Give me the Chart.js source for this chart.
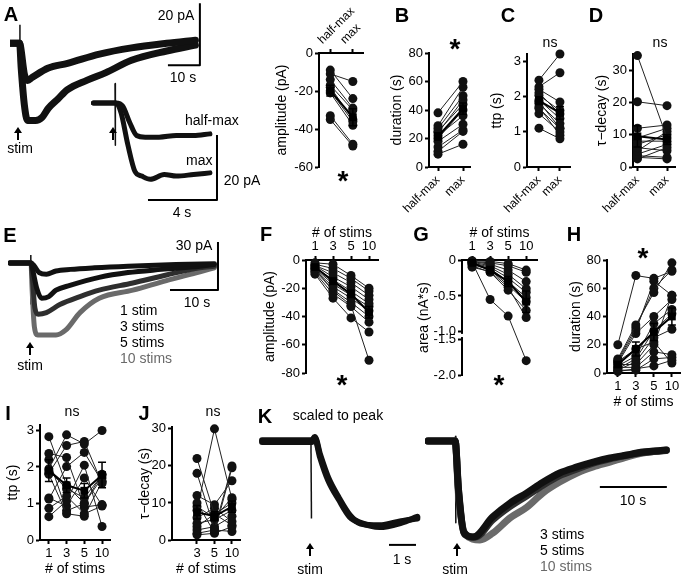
<!DOCTYPE html>
<html>
<head>
<meta charset="utf-8">
<script src="https://cdn.jsdelivr.net/npm/chart.js@4.4.0/dist/chart.umd.min.js"></script>
<style>
body { margin: 0; width: 682px; height: 578px; position: relative; overflow: hidden; background: #fff;
       font-family: "Liberation Sans", Arial, Helvetica, sans-serif; }
canvas { position: absolute; }
.t { position: absolute; white-space: nowrap; font-size: 14px; line-height: 14px; color: #000; transform: translate(-50%, -50%); }
.t.l { transform: translate(0, -50%); }
.t.g { color: #6a6a6a; }
.t.p { font-size: 20px; line-height: 20px; font-weight: bold; }
.t.s { font-size: 28px; line-height: 28px; font-weight: bold; transform: translate(-50%, -27.5%); }
.arr { position: absolute; width: 8px; }
.arr::before { content: ''; position: absolute; left: 0; top: 0; border-left: 4px solid transparent; border-right: 4px solid transparent; border-bottom: 6px solid #000; }
.arr::after { content: ''; position: absolute; left: 3px; top: 5px; bottom: 0; width: 2px; background: #000; }
</style>
</head>
<body>
<script>
// ---- Data ----
const pairCats = ['half-max', 'max'];
const stimCats = ['1', '3', '5', '10'];
const stimCatsJ = ['3', '5', '10'];

// A: amplitude (pA), one row per cell [half-max, max]
const ampRows = [[-9, -24], [-11, -15], [-14, -29], [-17, -30], [-18, -35], [-20, -36], [-21, -38], [-33, -48], [-35, -49]];
const ampMean = [-19.8, -33.8];
const ampSem = [2.8, 4.5];

// B: duration (s)
const durRows = [[38, 60], [29, 56], [27, 50], [25, 44], [24, 47], [22, 36], [20, 40], [18, 30], [14, 26], [11, 25], [9, 16]];
const durMean = [21.5, 41];
const durSem = [2.6, 4];

// C: time to peak (s)
const ttpRows = [[2.46, 3.2], [2.27, 2.67], [2.2, 1.84], [2.03, 1.6], [1.9, 1.37], [1.8, 1.23], [1.66, 1.09],
                 [1.51, 0.99], [1.1, 0.8], [2.1, 1.5], [1.7, 0.9], [1.85, 1.1]];
const ttpMean = [1.88, 1.53];
const ttpSem = [0.11, 0.18];

// D: tau-decay (s)
const tauRows = [[34.5, 9], [20.2, 19], [12, 13], [9, 12], [8, 8], [7, 10], [6, 5], [5, 11], [4, 7], [3.5, 3], [3, 2.5], [2.5, 6]];
const tauMean = [9.5, 8.5];
const tauSem = [3.3, 1.5];

// F: amplitude (pA) vs # of stims
const fRows = [[-2, -3, -11, -20], [-3, -6, -13, -22], [-4, -9, -16, -25], [-4, -12, -19, -28], [-5, -14, -22, -31],
               [-6, -17, -25, -33], [-7, -19, -27, -36], [-8, -21, -30, -40], [-9, -24, -33, -44], [-10, -27, -41, -51],
               [-6, -22, -32, -71]];
const fMean = [-5, -15, -24, -37];
const fSem = [1, 2, 2.5, 4];

// G: area (nA*s) vs # of stims
const gRows = [[-0.01, -0.02, -0.05, -0.14], [-0.02, -0.04, -0.08, -0.17], [-0.02, -0.06, -0.14, -0.3],
               [-0.03, -0.08, -0.2, -0.4], [-0.04, -0.1, -0.25, -0.45], [-0.05, -0.12, -0.3, -0.52],
               [-0.06, -0.14, -0.35, -0.58], [-0.08, -0.17, -0.42, -0.7], [-0.1, -0.16, -0.38, -0.8],
               [-0.03, -0.55, -0.78, -1.8]];
const gMean = [-0.04, -0.14, -0.3, -0.58];
const gSem = [0.01, 0.05, 0.07, 0.15];
const gTickVals = [0, -0.5, -1.0, -1.5, -2.0];

// H: duration (s) vs # of stims
const hRows = [[20, 69, 67, 72], [10, 34, 57, 78], [9, 32, 60, 73], [8, 30, 65, 55], [7, 28, 40, 52], [5, 12, 35, 45],
               [3, 10, 30, 42], [2, 8, 25, 31], [6, 6, 20, 55], [4, 4, 15, 13], [2, 2, 10, 11], [1, 3, 5, 9], [8, 17, 22, 7]];
const hMean = [6, 17, 29, 40];
const hSem = [1.5, 5, 6, 6];

// I: ttp (s) vs # of stims
const iRows = [[2.83, 1.5, 1.0, 1.7], [2.37, 2.26, 0.9, 0.97], [1.95, 2.88, 2.63, 3.0], [1.83, 2.59, 2.7, 1.55],
               [1.12, 2.01, 2.4, 1.6], [0.87, 1.2, 0.72, 0.93], [0.64, 1.07, 2.05, 0.37], [1.9, 1.4, 1.16, 1.78],
               [1.8, 0.72, 0.65, 1.6], [1.15, 0.93, 1.7, 0.95], [2.2, 0.8, 1.0, 1.8]];
const iMean = [1.9, 1.5, 1.35, 1.78];
const iSem = [0.3, 0.2, 0.2, 0.35];

// J: tau-decay (s) vs # of stims (3, 5, 10)
const jRows = [[22, 7, 10], [18, 3, 20], [12, 9.5, 16], [10, 2, 19.5], [8, 30, 11], [6, 8.6, 5], [4.5, 5.5, 8],
               [3.6, 7, 4], [2.7, 3.6, 6.4], [1.8, 2.7, 2.3], [1.4, 1.8, 3.6], [9, 6, 11.4]];
const jMean = [7.5, 6.4, 9];
const jSem = [1.8, 1.2, 1.5];

// Traces: [time (s), current (pA) or normalised]
const aHalf = [[0, 0], [3, 0], [3.3, -1], [4.5, -10], [5.5, -12], [7, -11], [12, -8], [18, -6.5], [28, -3.5], [38, -1.5], [49, 0], [58, 1]];
const aMax = [[0, 0], [3, 0], [3.5, -8], [4.5, -20], [5.5, -25], [8, -25], [10, -24], [12, -21], [15, -18], [18, -15],
              [24, -12], [30, -9.5], [38, -5.5], [49, -2.5], [58, -0.6]];
const aStim = [[3.1, 6], [3.15, -14]];
const aBar = [[49.4, -7.1], [59.4, -7.1], [59.4, 12.9]];

const insHalf = [[0.2, 0], [1.5, 0], [1.9, -1], [2.3, -6], [2.7, -10], [3.2, -10.5], [4, -10.5], [5, -10], [6, -10], [6.95, -9.5]];
const insMax = [[0.2, 0], [1.5, 0], [1.8, -3], [2.2, -13], [2.6, -21], [3.0, -22.5], [3.5, -23.5], [4.3, -22], [5, -22.5], [6, -22], [6.95, -21.5]];
const insStim = [[1.45, 6], [1.47, -13]];
const insBar = [[3.36, -29.85], [7.36, -29.85], [7.36, -9.85]];

const e1 = [[0.4, 0], [4.8, 0], [5.5, -2], [6.5, -6], [8, -7], [10, -5], [13, -4], [18, -3], [25, -2], [35, -1], [43, -0.5]];
const e3 = [[0.4, 0], [4.8, 0], [5.2, -5], [6, -16], [7, -22], [8.5, -21], [10, -17], [12.9, -14], [19, -9], [25, -6], [32, -4], [40, -2], [43, -1]];
const e5 = [[0.4, 0], [4.8, 0], [5.1, -10], [5.6, -28], [6.3, -32], [8, -31], [10.8, -26], [15, -21], [19, -17], [26, -12.5], [33, -7.5], [40, -3], [43, -2]];
const e10 = [[0.4, 0], [4.8, 0], [5, -15], [5.5, -40], [6.2, -45], [8, -45], [10, -45], [12, -42], [15, -31], [19, -22], [26, -17], [33, -11], [40, -5.5], [43, -3]];
const eStim = [[4.75, 5], [4.8, -26]];
const eBar = [[33.75, -16.9], [43.75, -16.9], [43.75, 13.1]];

const kL3 = [[0.15, 0], [2.0, 0], [2.1, 0.05], [2.3, -0.18], [2.6, -0.45], [3.0, -0.68], [3.4, -0.88], [3.8, -0.95], [4.5, -1.0], [5.3, -0.95], [5.9, -0.88]];
const kL5 = [[0.15, 0.02], [2.0, 0.02], [2.1, 0.06], [2.3, -0.15], [2.6, -0.42], [3.0, -0.66], [3.4, -0.86], [3.8, -0.96], [4.5, -0.98], [5.3, -0.93], [5.9, -0.9]];
const kLStim = [[1.96, 0.05], [1.98, -0.9]];
const kLBar = [[4.85, -1.21], [5.85, -1.21]];

const kR3 = [[0.45, 0], [4.5, 0], [5.0, -0.5], [5.8, -0.95], [7.2, -1.0], [10.1, -0.79], [12.7, -0.646], [15.2, -0.54], [17.6, -0.43],
             [20.1, -0.333], [22.7, -0.27], [25.1, -0.22], [27.6, -0.177], [30.1, -0.146], [32.5, -0.115], [36, -0.094]];
const kR5 = [[0.45, 0], [4.5, 0], [5.0, -0.52], [5.9, -0.97], [7.5, -1.0], [10.1, -0.82], [12.7, -0.68], [15.2, -0.57], [17.6, -0.46],
             [20.1, -0.36], [22.7, -0.29], [25.1, -0.23], [27.6, -0.185], [30.1, -0.15], [32.5, -0.12], [36, -0.1]];
const kR10 = [[0.45, 0], [4.5, 0], [5.0, -0.55], [6, -0.97], [8.2, -1.03], [10.1, -0.96], [12.7, -0.8], [15.2, -0.69], [17.6, -0.54],
              [20.1, -0.427], [22.7, -0.333], [25.1, -0.27], [27.6, -0.22], [30.1, -0.167], [32.5, -0.125], [36.1, -0.094]];
const kRStim = [[4.55, 0.05], [4.6, -0.85]];
const kRBar = [[26.1, -0.48], [36.1, -0.48]];

// ---- Helpers ----
const FONT = '"Liberation Sans", Arial, Helvetica, sans-serif';
Chart.defaults.font.family = FONT;
Chart.defaults.color = '#000';

function addCanvas(left, top, w, h) {
    const c = document.createElement('canvas');
    c.width = w; c.height = h;
    c.style.left = left + 'px'; c.style.top = top + 'px';
    c.style.width = w + 'px'; c.style.height = h + 'px';
    document.body.appendChild(c);
    return c;
}

function txt(s, x, y, cls) {
    const d = document.createElement('div');
    d.className = 't ' + (cls || '');
    d.textContent = s;
    d.style.left = x + 'px';
    d.style.top = y + 'px';
    document.body.appendChild(d);
}

function arrow(x, y1, y2) {
    const d = document.createElement('div');
    d.className = 'arr';
    d.style.left = (x - 4) + 'px';
    d.style.top = y1 + 'px';
    d.style.height = (y2 - y1) + 'px';
    document.body.appendChild(d);
}

// mean +/- sem bars
const errorBars = {
    id: 'errorBars',
    afterDatasetsDraw(chart) {
        const ctx = chart.ctx;
        const ys = chart.scales.y;
        chart.data.datasets.forEach((ds, di) => {
            if (!ds.errors) return;
            const meta = chart.getDatasetMeta(di);
            ctx.save();
            ctx.strokeStyle = '#000';
            ctx.lineWidth = 1.5;
            meta.data.forEach((pt, i) => {
                const v = ds.data[i].y, e = ds.errors[i];
                const y1 = ys.getPixelForValue(v + e), y2 = ys.getPixelForValue(v - e);
                ctx.beginPath();
                ctx.moveTo(pt.x, y1); ctx.lineTo(pt.x, y2);
                ctx.moveTo(pt.x - 4, y1); ctx.lineTo(pt.x + 4, y1);
                ctx.moveTo(pt.x - 4, y2); ctx.lineTo(pt.x + 4, y2);
                ctx.stroke();
            });
            ctx.restore();
        });
    }
};

// paired / repeated-measures dot plot
function dotPlot(p) {
    const tf = p.tf || (v => v);
    const xTop = p.xPos === 'top';
    const padR = 14, padO = 10;
    const w = p.box.r - p.box.l + p.padL + padR;
    const h = p.box.b - p.box.t + p.padX + padO;
    const canvas = addCanvas(p.box.l - p.padL, p.box.t - (xTop ? p.padX : padO), w, h);

    const sets = [{
        data: p.mean.map((v, i) => ({ x: i, y: tf(v) })), errors: p.sem,
        showLine: true, borderColor: '#000', borderWidth: 2,
        pointStyle: 'rect', pointRadius: 5.5, pointBackgroundColor: '#000', pointBorderWidth: 0, clip: false
    }];
    p.rows.forEach(row => sets.push({
        data: row.map((v, i) => ({ x: i, y: tf(v) })),
        showLine: true, borderColor: '#222', borderWidth: 1,
        pointRadius: 4.5, pointBackgroundColor: '#111', pointBorderWidth: 0, clip: false
    }));

    const axisGrid = { drawOnChartArea: false, drawTicks: true, tickLength: 4, tickWidth: 2, tickColor: '#000' };
    new Chart(canvas, {
        type: 'scatter',
        data: { datasets: sets },
        options: {
            responsive: false, animation: false, events: [],
            layout: { padding: { left: 0, right: padR, top: xTop ? 0 : padO, bottom: xTop ? padO : 0 } },
            plugins: { legend: { display: false }, tooltip: { enabled: false } },
            scales: {
                x: {
                    type: 'linear', position: p.xPos, min: p.xMin, max: p.xMax,
                    grid: axisGrid, border: { color: '#000', width: 2 },
                    ticks: { autoSkip: false, padding: 2, font: { size: p.rot ? 12 : 13 }, color: '#000',
                             minRotation: p.rot || 0, maxRotation: p.rot || 0, callback: v => p.cats[v] },
                    afterBuildTicks: s => { s.ticks = p.cats.map((c, i) => ({ value: i })); },
                    afterFit: s => { s.height = p.padX; },
                    title: { display: !!p.xTitle, text: p.xTitle || '', font: { size: 14 }, padding: 0, color: '#000' }
                },
                y: {
                    type: 'linear', min: p.yMin, max: p.yMax,
                    grid: axisGrid, border: { color: '#000', width: 2 },
                    ticks: { autoSkip: false, padding: 2, font: { size: 13 }, color: '#000', callback: p.yLabel || (v => String(v)) },
                    afterBuildTicks: s => { s.ticks = p.yTicks.map(v => ({ value: v })); },
                    afterFit: s => { s.width = p.padL; },
                    title: { display: true, text: p.yTitle, font: { size: 14 }, padding: { top: 4, bottom: 0 }, color: '#000' }
                }
            }
        },
        plugins: [errorBars].concat(p.extra || [])
    });
}

// recorded traces, no axes, scale bars drawn in data units
function traceChart(box, xr, yr, sets) {
    const canvas = addCanvas(box.l, box.t, box.w, box.h);
    new Chart(canvas, {
        type: 'scatter',
        data: {
            datasets: sets.map(s => ({
                data: s.pts.map(q => ({ x: q[0], y: q[1] })),
                showLine: true, pointRadius: 0, borderColor: s.color, borderWidth: s.width,
                cubicInterpolationMode: s.smooth ? 'monotone' : 'default', tension: 0,
                borderJoinStyle: 'round', borderCapStyle: s.smooth ? 'round' : 'butt', clip: false
            }))
        },
        options: {
            responsive: false, animation: false, events: [],
            layout: { padding: 0 },
            plugins: { legend: { display: false }, tooltip: { enabled: false } },
            scales: {
                x: { type: 'linear', display: false, min: xr[0], max: xr[1] },
                y: { type: 'linear', display: false, min: yr[0], max: yr[1] }
            }
        }
    });
}

const BLACK = '#111', DARK = '#2e2e2e', GREY = '#6a6a6a';

// ---- Panel A ----
traceChart({ l: 10, t: 3, w: 195, h: 130 }, [0, 61], [-29, 13], [
    { pts: aHalf, color: BLACK, width: 7, smooth: true },
    { pts: aMax, color: BLACK, width: 7, smooth: true },
    { pts: aStim, color: BLACK, width: 1.5 },
    { pts: aBar, color: '#000', width: 2 }
]);
traceChart({ l: 90, t: 78, w: 132, h: 128 }, [0, 7.65], [-31.7, 7.7], [
    { pts: insHalf, color: BLACK, width: 5, smooth: true },
    { pts: insMax, color: BLACK, width: 5, smooth: true },
    { pts: insStim, color: BLACK, width: 1.5 },
    { pts: insBar, color: '#000', width: 2 }
]);
dotPlot({ box: { l: 319, r: 363, t: 53, b: 167 }, xPos: 'top', padX: 50, padL: 49, rot: 45,
          cats: pairCats, xMin: -0.5, xMax: 1.45, yMin: -60, yMax: 0, yTicks: [0, -20, -40, -60],
          yTitle: 'amplitude (pA)', rows: ampRows, mean: ampMean, sem: ampSem });

// ---- Panels B, C, D ----
dotPlot({ box: { l: 429, r: 470, t: 53, b: 167 }, xPos: 'bottom', padX: 48, padL: 44, rot: 45,
          cats: pairCats, xMin: -0.36, xMax: 1.28, yMin: 0, yMax: 80, yTicks: [0, 20, 40, 60, 80],
          yTitle: 'duration (s)', rows: durRows, mean: durMean, sem: durSem });
dotPlot({ box: { l: 527, r: 570, t: 54, b: 167 }, xPos: 'bottom', padX: 48, padL: 42, rot: 45,
          cats: pairCats, xMin: -0.57, xMax: 1.48, yMin: 0, yMax: 3.2, yTicks: [0, 1, 2, 3],
          yTitle: 'ttp (s)', rows: ttpRows, mean: ttpMean, sem: ttpSem });
dotPlot({ box: { l: 633, r: 675, t: 54, b: 167 }, xPos: 'bottom', padX: 48, padL: 43, rot: 45,
          cats: pairCats, xMin: -0.15, xMax: 1.27, yMin: 0, yMax: 35, yTicks: [0, 10, 20, 30],
          yTitle: 'τ−decay (s)', rows: tauRows, mean: tauMean, sem: tauSem });

// ---- Panel E ----
traceChart({ l: 8, t: 238, w: 212, h: 106 }, [0, 44.17], [-50.6, 15.6], [
    { pts: e1, color: BLACK, width: 5, smooth: true },
    { pts: e3, color: BLACK, width: 5, smooth: true },
    { pts: e5, color: DARK, width: 5, smooth: true },
    { pts: e10, color: GREY, width: 5, smooth: true },
    { pts: eStim, color: BLACK, width: 1.5 },
    { pts: eBar, color: '#000', width: 2 }
]);

// ---- Panels F, G, H ----
dotPlot({ box: { l: 306, r: 378, t: 260, b: 373 }, xPos: 'top', padX: 35, padL: 48, xTitle: '# of stims',
          cats: stimCats, xMin: -0.5, xMax: 3.5, yMin: -80, yMax: 0, yTicks: [0, -20, -40, -60, -80],
          yTitle: 'amplitude (pA)', rows: fRows, mean: fMean, sem: fSem });

// broken axis: values below -1.5 are shifted up by 0.4
const gShift = v => (v < -1.05 ? v + 0.4 : v);
const gBreak = {
    id: 'gBreak',
    afterDraw(chart) {
        const ys = chart.scales.y, x = chart.chartArea.left;
        const ya = ys.getPixelForValue(gShift(-1.0)) + 2, yb = ys.getPixelForValue(gShift(-1.5)) - 2;
        chart.ctx.save();
        chart.ctx.fillStyle = '#fff';
        chart.ctx.fillRect(x - 2, ya, 4, yb - ya);
        chart.ctx.restore();
    }
};
dotPlot({ box: { l: 462, r: 537, t: 260, b: 375 }, xPos: 'top', padX: 35, padL: 50, xTitle: '# of stims',
          cats: stimCats, xMin: -0.56, xMax: 3.6, yMin: gShift(-2.0), yMax: 0, yTicks: gTickVals.map(gShift),
          yLabel: v => { const r = gTickVals[gTickVals.map(gShift).indexOf(v)]; return r === 0 ? '0' : r.toFixed(1); },
          tf: gShift, yTitle: 'area (nA*s)', rows: gRows, mean: gMean, sem: gSem, extra: [gBreak] });

dotPlot({ box: { l: 607, r: 680, t: 260, b: 373 }, xPos: 'bottom', padX: 38, padL: 43, xTitle: '# of stims',
          cats: stimCats, xMin: -0.6, xMax: 3.45, yMin: 0, yMax: 80, yTicks: [0, 20, 40, 60, 80],
          yTitle: 'duration (s)', rows: hRows, mean: hMean, sem: hSem });

// ---- Panels I, J ----
dotPlot({ box: { l: 40, r: 110, t: 425, b: 540 }, xPos: 'bottom', padX: 38, padL: 39, xTitle: '# of stims',
          cats: stimCats, xMin: -0.5, xMax: 3.45, yMin: 0, yMax: 3.15, yTicks: [0, 1, 2, 3],
          yTitle: 'ttp (s)', rows: iRows, mean: iMean, sem: iSem });
dotPlot({ box: { l: 172, r: 240, t: 427, b: 540 }, xPos: 'bottom', padX: 38, padL: 39, xTitle: '# of stims',
          cats: stimCatsJ, xMin: -1.43, xMax: 2.46, yMin: 0, yMax: 30.5, yTicks: [0, 10, 20, 30],
          yTitle: 'τ−decay (s)', rows: jRows, mean: jMean, sem: jSem });

// ---- Panel K ----
traceChart({ l: 258, t: 425, w: 165, h: 125 }, [0, 6.11], [-1.27, 0.2], [
    { pts: kL3, color: BLACK, width: 6, smooth: true },
    { pts: kL5, color: BLACK, width: 6, smooth: true },
    { pts: kLStim, color: BLACK, width: 1.5 },
    { pts: kLBar, color: '#000', width: 2 }
]);
traceChart({ l: 425, t: 425, w: 245, h: 125 }, [0, 36.57], [-1.135, 0.167], [
    { pts: kR3, color: BLACK, width: 7, smooth: true },
    { pts: kR5, color: DARK, width: 7, smooth: true },
    { pts: kR10, color: GREY, width: 7, smooth: true },
    { pts: kRStim, color: BLACK, width: 1.5 },
    { pts: kRBar, color: '#000', width: 2 }
]);

// ---- Text ----
txt('A', 11, 14, 'p'); txt('B', 402, 15, 'p'); txt('C', 508, 15, 'p'); txt('D', 596, 15, 'p');
txt('E', 10, 235, 'p'); txt('F', 266, 234, 'p'); txt('G', 421, 234, 'p'); txt('H', 574, 234, 'p');
txt('I', 8, 413, 'p'); txt('J', 144, 413, 'p'); txt('K', 265, 416, 'p');

txt('20 pA', 176, 15); txt('10 s', 183, 77);
arrow(18, 127, 140); txt('stim', 20, 148);
arrow(113, 127, 140);
txt('half-max', 185, 120, 'l'); txt('max', 186, 160, 'l');
txt('20 pA', 242, 180); txt('4 s', 182, 212);
txt('*', 343, 175, 's');
txt('*', 455, 43, 's');
txt('ns', 550, 42); txt('ns', 660, 42);

txt('30 pA', 194, 245); txt('10 s', 197, 302);
txt('1 stim', 120, 310, 'l'); txt('3 stims', 120, 326, 'l'); txt('5 stims', 120, 342, 'l'); txt('10 stims', 120, 358, 'l g');
arrow(30, 342, 355); txt('stim', 30, 365);
txt('*', 342, 379, 's'); txt('*', 499, 379, 's'); txt('*', 643, 252, 's');

txt('ns', 72, 411); txt('ns', 213, 411);
txt('scaled to peak', 338, 415);
arrow(310, 543, 556); txt('stim', 310, 569); txt('1 s', 402, 559);
arrow(457, 543, 556); txt('stim', 455, 569); txt('10 s', 633, 500);
txt('3 stims', 540, 534, 'l'); txt('5 stims', 540, 550, 'l'); txt('10 stims', 540, 566, 'l g');
</script>
</body>
</html>
